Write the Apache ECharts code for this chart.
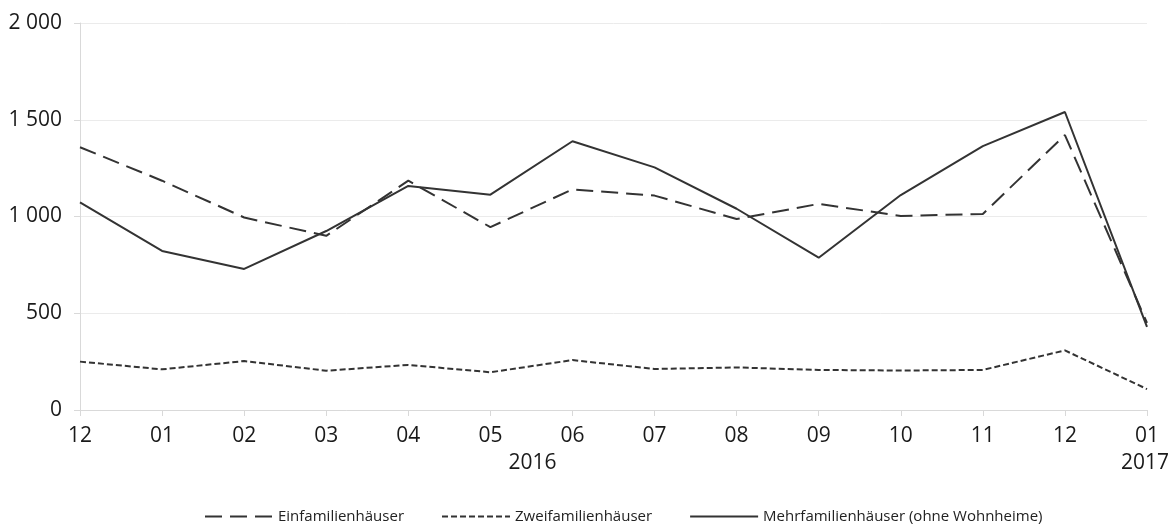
<!DOCTYPE html>
<html>
<head>
<meta charset="utf-8">
<script src="https://cdn.jsdelivr.net/npm/echarts@6/dist/echarts.min.js"></script>
<style>html,body{margin:0;padding:0;background:#fff}#c{width:1176px;height:532px}</style>
</head>
<body>
<div id="c"></div>
<script>
var months = ["12","01","02","03","04","05","06","07","08","09","10","11","12","01"];
var yearLabels = [{text:"2016", from:5, to:6}, {text:"2017", from:13, to:13}];
var yTicks = [0, 500, 1000, 1500, 2000];
var einfamilien = [1358, 1185, 995, 900, 1185, 945, 1140, 1108, 987, 1065, 1003, 1013, 1421, 450];
var zweifamilien = [250, 210, 253, 203, 233, 195, 258, 212, 220, 207, 204, 207, 308, 108];
var mehrfamilien = [1073, 822, 729, 925, 1158, 1113, 1389, 1254, 1040, 787, 1111, 1364, 1540, 430];
var seriesNames = ["Einfamilienhäuser", "Zweifamilienhäuser", "Mehrfamilienhäuser (ohne Wohnheime)"];

var font = "'Open Sans', 'Noto Sans', sans-serif";
var chart = echarts.init(document.getElementById('c'), null, {renderer:'canvas'});
function fmt(v){ return String(v).replace(/\B(?=(\d{3})+(?!\d))/g, ' '); }
var lineColor = '#333333';
chart.setOption({
  animation:false,
  backgroundColor:'#fff',
  grid:{left:80, right:29, top:23, bottom:122, containLabel:false},
  legend:{
    bottom:3, left:199, itemWidth:68, itemHeight:12, itemGap:37,
    itemStyle:{opacity:0},
    textStyle:{fontFamily:font, fontSize:15, color:'#222'},
    data:seriesNames
  },
  xAxis:{
    type:'category', data:months, boundaryGap:false,
    axisLine:{show:true, lineStyle:{color:'#d9d9d9', width:1}},
    axisTick:{show:true, length:6, alignWithLabel:true, lineStyle:{color:'#d9d9d9'}},
    axisLabel:{fontFamily:font, fontSize:21, color:'#1a1a1a', margin:16, interval:0},
    splitLine:{show:false}
  },
  yAxis:{
    type:'value', min:yTicks[0], max:yTicks[yTicks.length-1], interval:500,
    axisLine:{show:true, lineStyle:{color:'#d9d9d9'}},
    axisTick:{show:true, length:6, lineStyle:{color:'#d9d9d9'}},
    axisLabel:{fontFamily:font, fontSize:21, color:'#1a1a1a', margin:18, formatter:fmt},
    splitLine:{show:true, lineStyle:{color:'#ebebeb', width:1}}
  },
  series:[
    {name:seriesNames[0], type:'line', data:einfamilien, symbol:'none', color:lineColor,
     lineStyle:{color:lineColor, width:2, type:[17,8]}},
    {name:seriesNames[1], type:'line', data:zweifamilien, symbol:'none', color:lineColor,
     lineStyle:{color:lineColor, width:2, type:[6,3]}},
    {name:seriesNames[2], type:'line', data:mehrfamilien, symbol:'none', color:lineColor,
     lineStyle:{color:lineColor, width:2, type:'solid'}}
  ]
});
var g = yearLabels.map(function(yl){
  var x1 = chart.convertToPixel({xAxisIndex:0}, yl.from);
  var x2 = chart.convertToPixel({xAxisIndex:0}, yl.to);
  var isLast = yl.to === months.length - 1 && yl.from === yl.to;
  return {type:'text', left: isLast ? null : (x1+x2)/2 - 23, right: isLast ? 7 : null, top:453,
    style:{text:yl.text, fontFamily:font, fontSize:21, fill:'#1a1a1a'}};
});
chart.setOption({graphic:g});
</script>
</body>
</html>
